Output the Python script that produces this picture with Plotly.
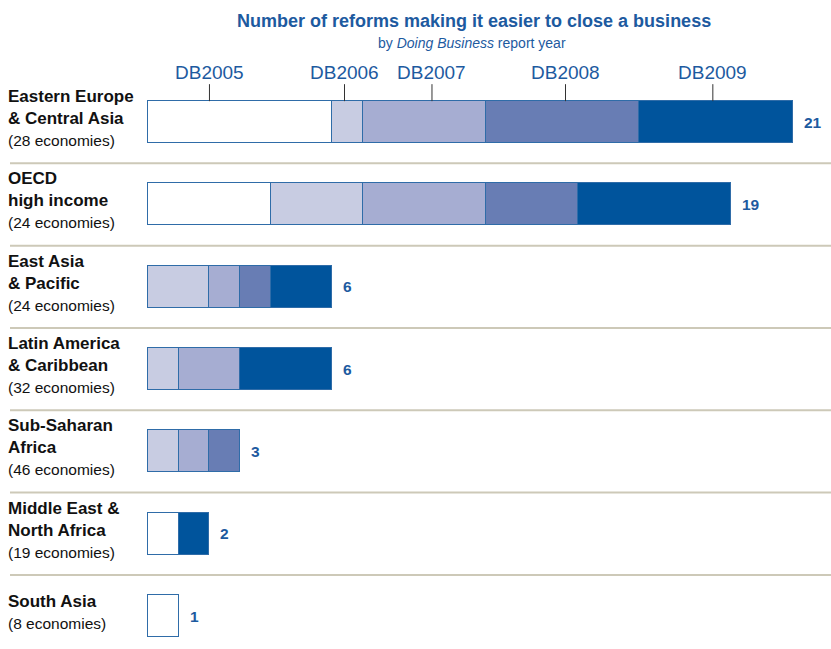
import plotly.graph_objects as go

regions = ["Eastern Europe<br>& Central Asia", "OECD<br>high income", "East Asia<br>& Pacific",
           "Latin America<br>& Caribbean", "Sub-Saharan<br>Africa", "Middle East &<br>North Africa",
           "South Asia"]
economies = [28, 24, 24, 32, 46, 19, 8]
years = ["DB2005", "DB2006", "DB2007", "DB2008", "DB2009"]
db2005 = [6, 4, 0, 0, 0, 1, 1]
db2006 = [1, 3, 2, 1, 1, 0, 0]
db2007 = [4, 4, 1, 2, 1, 0, 0]
db2008 = [5, 3, 1, 0, 1, 0, 0]
db2009 = [5, 5, 2, 3, 0, 1, 0]
label_pos = [2, 6.4, 9.25, 13.6, 18.4]  # where DB labels point on the first bar

series = [db2005, db2006, db2007, db2008, db2009]
colors = ["#ffffff", "#c8cce2", "#a6add2", "#687db4", "#00549c"]
border = "#2f6ca8"
blue = "#1d5a9f"
font = "Liberation Sans, Arial, sans-serif"

ypos = list(range(len(regions)))
fig = go.Figure()
for name, vals, col in zip(years, series, colors):
    fig.add_trace(go.Bar(
        y=ypos, x=[v if v else None for v in vals], name=name, orientation="h",
        marker=dict(color=col, line=dict(color=border, width=1.5)),
        width=0.51, showlegend=False, hoverinfo="x+name", cliponaxis=False))

totals = [sum(s[i] for s in series) for i in range(len(regions))]
ann = []
for i, (r, e, t) in enumerate(zip(regions, economies, totals)):
    ann.append(dict(x=-0.2026, xref="paper", y=i, yref="y", xanchor="left", yanchor="middle",
                    align="left", showarrow=False, yshift=4,
                    text=f"<b>{r}</b><br><span style='font-size:15.5px'>({e} economies)</span>",
                    font=dict(family=font, size=17, color="#111111")))
    ann.append(dict(x=t, y=i, xref="x", yref="y", xanchor="left", yanchor="middle",
                    xshift=9, showarrow=False, text=f"<b>{t}</b>",
                    font=dict(family=font, size=15.5, color=blue)))

for yr, xp in zip(years, label_pos):
    ann.append(dict(x=xp, y=-0.255, xref="x", yref="y", text=yr, showarrow=True,
                    arrowhead=0, arrowwidth=1, arrowcolor="#333333", ax=0, ay=-29,
                    standoff=0, font=dict(family=font, size=19, color=blue)))

ann.append(dict(x=0.4796, xref="paper", y=1.105, yref="paper", showarrow=False,
                text="<b>Number of reforms making it easier to close a business</b>",
                font=dict(family=font, size=18, color=blue), xanchor="center", yanchor="middle"))
ann.append(dict(x=0.4767, xref="paper", y=1.067, yref="paper", showarrow=False,
                text="by <i>Doing Business</i> report year",
                font=dict(family=font, size=14, color=blue), xanchor="center", yanchor="middle"))

shapes = []
for i in range(len(regions) - 1):
    shapes.append(dict(type="line", xref="paper", yref="y", x0=-0.1968, x1=1.0,
                       y0=i + 0.5, y1=i + 0.5, line=dict(color="#cdc9b8", width=2)))

fig.update_layout(
    width=831, height=649, barmode="stack",
    margin=dict(l=145, r=0, t=81, b=0),
    plot_bgcolor="white", paper_bgcolor="white",
    xaxis=dict(range=[-0.1, 22.25], visible=False, fixedrange=True),
    yaxis=dict(range=[6.4, -0.5], visible=False, fixedrange=True),
    annotations=ann, shapes=shapes, bargap=0,
)
fig.write_html("out.html", config={"displayModeBar": False})

with open("out.html", encoding="utf-8") as f:
    html = f.read()
html = html.replace("<head>", "<head><style>html,body{margin:0;padding:0;overflow:hidden}</style>", 1)
with open("out.html", "w", encoding="utf-8") as f:
    f.write(html)
